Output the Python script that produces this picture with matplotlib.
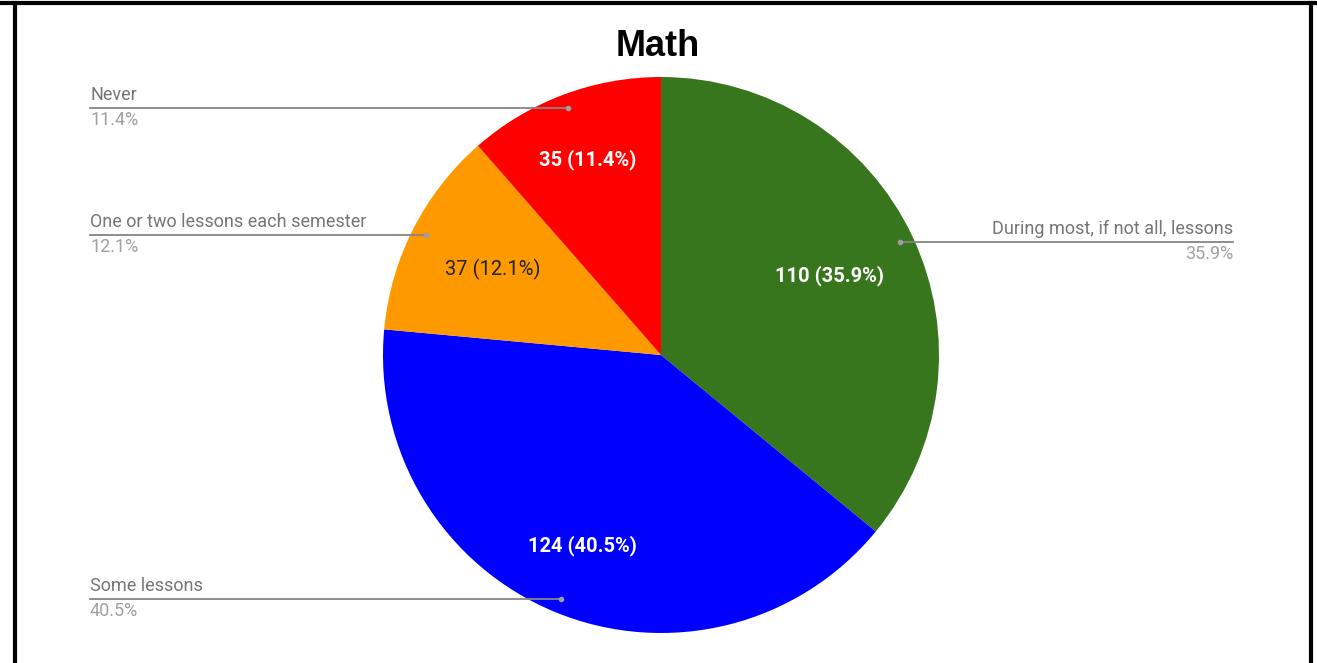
import numpy as np
import matplotlib
matplotlib.use("Agg")
import matplotlib.pyplot as plt
from matplotlib.lines import Line2D

title = "Math"
categories = ["During most, if not all, lessons", "Some lessons",
              "One or two lessons each semester", "Never"]
values = [110, 124, 37, 35]
colors = ["#38761d", "#0000ff", "#ff9900", "#ff0000"]
inner_text_colors = ["white", "white", "#222222", "white"]

W, H = 1317, 663
fig = plt.figure(figsize=(W / 100, H / 100), dpi=100)
ax = fig.add_axes([0, 0, 1, 1])
ax.set_xlim(0, W)
ax.set_ylim(0, H)
ax.set_aspect("equal")
ax.axis("off")

cx, cy, R = 661, 663 - 355, 278
wedges, _ = ax.pie(values, colors=colors, startangle=90, counterclock=False,
                   center=(cx, cy), radius=R, frame=True,
                   wedgeprops=dict(linewidth=0))
ax.set_xlim(0, W)
ax.set_ylim(0, H)
ax.axis("off")

total = sum(values)
inner_r = [0.67, 0.74, 0.68, 0.75]
label_side = ["right", "left", "left", "left"]
font = "Roboto"
for w, v, cat, ir, tc, side in zip(wedges, values, categories, inner_r,
                                   inner_text_colors, label_side):
    mid = np.deg2rad((w.theta1 + w.theta2) / 2)
    pct = 100 * v / total
    tx, ty = cx + ir * R * np.cos(mid), cy + ir * R * np.sin(mid)
    ax.text(tx, ty, f"{v} ({pct:.1f}%)", color=tc, ha="center", va="center",
            fontsize=14.5, family=font,
            fontweight="bold" if tc == "white" else "normal")
    dx, dy = cx + 0.95 * R * np.cos(mid), cy + 0.95 * R * np.sin(mid)
    ax.plot([dx], [dy], "o", ms=3, color="#9e9e9e", zorder=5)
    if side == "left":
        x_end, ha = 90, "left"
    else:
        x_end, ha = 1233, "right"
    ax.plot([dx, x_end], [dy, dy], color="#858585", lw=1.3, zorder=4)
    ax.text(x_end, dy + 4, cat, ha=ha, va="bottom", color="#757575",
            fontsize=13, family=font)
    ax.text(x_end, dy - 3, f"{pct:.1f}%", ha=ha, va="top", color="#a0a0a0",
            fontsize=13, family=font)

ax.text(cx - 3, 663 - 56, title, ha="center", va="baseline", fontsize=26,
        fontweight="bold", family="Liberation Sans", color="black")

# border
fig.add_artist(Line2D([0, 1], [1 - 3 / H, 1 - 3 / H], color="black", lw=3,
                      transform=fig.transFigure))
fig.add_artist(Line2D([15 / W, 15 / W], [0, 1 - 3 / H], color="black", lw=3,
                      transform=fig.transFigure))
fig.add_artist(Line2D([1311 / W, 1311 / W], [0, 1 - 3 / H], color="black", lw=3,
                      transform=fig.transFigure))

fig.savefig("out.png", dpi=100, facecolor="white")
